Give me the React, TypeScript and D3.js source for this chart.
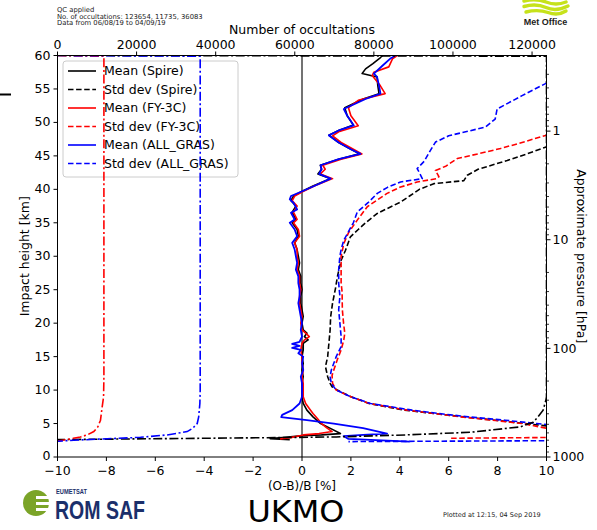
import React from "react";
import * as d3 from "d3";

const W = 597;
const H = 530;
const M = { left: 57.5, right: 546.5, top: 55.5, bottom: 457 };

const xTicks = [-10, -8, -6, -4, -2, 0, 2, 4, 6, 8, 10];
const yTicks = [0, 5, 10, 15, 20, 25, 30, 35, 40, 45, 50, 55, 60];
const countTicks = [0, 20000, 40000, 60000, 80000, 100000, 120000];
const pressureMajor = [1, 10, 100, 1000];
const countMax = 123654;
const scaleHeight = 7.05;

// [impact height km, (O-B)/B %]
const meanSpire: [number, number][] = [
  [60, 3.3], [59.7, 3.21], [58.8, 2.9], [58, 2.6], [57.3, 2.46], [56.8, 3.07], [55.5, 3.1], [54.3, 3.15],
  [53.5, 2.5], [52.2, 1.75], [51, 1.85], [49.6, 2.1], [48.8, 1.5], [48.1, 1.1], [47, 1.5], [46, 2.0],
  [45.3, 2.35], [44.5, 1.5], [43.6, 0.75], [43, 0.8], [42.3, 0.65], [41.6, 1.15], [40.5, 0.45], [39.6, -0.05],
  [39, -0.35], [38.3, -0.45], [37.5, -0.25], [36.6, -0.4], [35.5, -0.25], [35, -0.4], [34, -0.2], [33, -0.15],
  [32, -0.3], [31, -0.2], [30, -0.15], [29, -0.1], [28, -0.15], [27, -0.05], [26, -0.05], [25, 0.0],
  [24, -0.05], [23, -0.05], [22, 0.0], [21, 0.05], [20, 0.0], [19, 0.05], [18.5, 0.2], [18, 0.1],
  [17.5, 0.25], [17, 0.05], [16, 0.05], [15, 0.0], [14, 0.05], [13, 0.0], [12, 0.05], [11, 0.0],
  [10, 0.0], [9, 0.0], [8, 0.05], [7, 0.2], [6, 0.45], [5, 0.76], [4.2, 1.2], [3.5, 1.57],
  [3.3, 0.8], [3.2, 0.06], [2.9, -0.8], [2.75, -1.3], [2.6, -0.5],
];

const meanFY3C: [number, number][] = [
  [60, 3.89], [59.5, 3.7], [58.3, 3.55], [57.5, 2.94], [57, 2.87], [55.5, 3.2], [54.3, 3.4], [53.3, 2.3],
  [52.2, 1.9], [51, 2.0], [49.5, 2.3], [48.6, 1.5], [48, 1.25], [47, 1.6], [46, 2.1], [45.3, 2.45],
  [44.5, 1.6], [43.6, 0.85], [43, 0.95], [42.3, 0.75], [41.6, 1.25], [40.5, 0.5], [39.6, 0.0], [39, -0.3],
  [38.3, -0.4], [37.5, -0.2], [36.6, -0.35], [35.5, -0.2], [35, -0.35], [34, -0.15], [33, -0.1], [32, -0.3],
  [31, -0.2], [30, -0.2], [29, -0.15], [28, -0.2], [27, -0.1], [26, -0.1], [25, -0.05], [24, -0.1],
  [23, -0.1], [22, -0.05], [21, 0.0], [20, -0.05], [19, 0.0], [18.5, 0.15], [18, 0.3], [17.5, 0.1],
  [17, 0.0], [16, -0.05], [15, 0.0], [14, 0.0], [13, 0.05], [12, 0.0], [11, 0.05], [10, 0.05],
  [9, 0.05], [8, 0.15], [7, 0.35], [6.5, 0.45], [5.8, 0.62], [5, 0.8], [4.4, 1.0], [3.8, 1.23],
  [3.5, 0.7], [3.3, 0.06], [2.9, -0.47], [2.7, -0.9],
];

const meanGRAS: [number, number][] = [
  [60, 3.82], [59.5, 3.6], [58.5, 3.3], [57.3, 2.94], [56.8, 3.07], [55.5, 3.15], [54.3, 3.21], [53.5, 2.6],
  [52, 1.71], [51, 1.85], [49.55, 2.12], [48.8, 1.5], [48.06, 1.1], [47, 1.5], [46, 2.0], [45.3, 2.39],
  [44.5, 1.5], [43.6, 0.76], [43, 0.8], [42.3, 0.7], [41.6, 1.17], [40.5, 0.5], [39.6, -0.06], [39, -0.45],
  [38.5, -0.5], [38, -0.35], [37, -0.2], [36.5, -0.45], [35.5, -0.3], [35, -0.5], [34, -0.3], [33, -0.2],
  [32, -0.4], [31, -0.3], [30, -0.25], [29, -0.2], [28, -0.25], [27, -0.15], [26, -0.15], [25, -0.1],
  [24, -0.1], [23, -0.15], [22, -0.1], [21, -0.05], [20, 0.0], [19, -0.05], [18, 0.0], [17.2, -0.1],
  [16.9, -0.4], [16.6, -0.1], [16.3, -0.4], [16, -0.05], [15.5, -0.15], [15, 0.05], [14, 0.0], [13, 0.05],
  [12, -0.05], [11, 0.0], [10, 0.0], [9, 0.0], [8, -0.1], [7, -0.4], [6.3, -0.81], [5.97, -0.85],
  [5.5, 0.2], [5, 1.3], [4.3, 2.5], [3.5, 3.48], [3.3, 2.5], [3.13, 1.7], [2.7, 1.9], [2.3, 4.4],
];

const stdSpire: [number, number][] = [
  [60, 12], [50, 12], [47, 11], [46.3, 9.96], [45.3, 9.2], [44.3, 8.39], [43, 7.2], [42.1, 6.76],
  [41.3, 6.62], [40.85, 5.39], [40, 4.8], [39, 4.4], [38.1, 4.03], [36.4, 3.08], [35, 2.6], [34, 2.3],
  [32.9, 1.98], [30.9, 1.78], [29.4, 1.6], [27, 1.45], [25.2, 1.37], [23, 1.25], [20.9, 1.17], [19, 1.15],
  [17, 1.1], [15, 1.05], [13.5, 0.96], [12, 1.05], [11, 1.15], [10.5, 1.23], [10, 1.44], [9, 2.0],
  [8, 2.75], [7, 4.2], [6.5, 5.4], [6, 6.6], [5.5, 7.9], [4.8, 9.6], [4.3, 11], [3, 14], [2.6, 14],
];

const stdFY3C: [number, number][] = [
  [60, 12], [50, 11], [48.06, 9.96], [47, 9.0], [46.1, 8.12], [45.3, 7.2], [44.6, 6.35], [43.5, 5.9],
  [42.8, 5.46], [41.9, 5.6], [41.6, 5.53], [41.1, 4.71], [40.3, 4.0], [39.4, 3.48], [37.4, 2.67], [35.4, 2.26],
  [33.5, 1.9], [31.9, 1.71], [30, 1.6], [28, 1.6], [26, 1.6], [24.7, 1.64], [22, 1.65], [20, 1.7],
  [18.5, 1.75], [17.5, 1.71], [16, 1.6], [14.5, 1.44], [13, 1.3], [12.2, 1.23], [11, 1.25], [10, 1.4],
  [9, 2.0], [8, 2.75], [7, 4.3], [6.5, 5.4], [6, 6.5], [5.5, 7.8], [5, 9.0], [4.3, 10.0],
  [3.5, 12], [3.0, 13], [2.8, 6.1],
];

const stdGRAS: [number, number][] = [
  [60, 12], [57, 11], [55.8, 9.96], [54, 9.0], [52, 7.98], [50.5, 7.9], [49.3, 7.5], [48, 6.0],
  [47.06, 5.46], [45.5, 5.2], [44.2, 5.0], [43.1, 4.71], [42.5, 4.8], [41.6, 4.92], [41.1, 4.03], [40.3, 3.5],
  [39.4, 3.08], [38, 2.7], [36.6, 2.26], [35, 2.1], [34, 1.95], [32.4, 1.71], [31, 1.6], [30, 1.55],
  [28, 1.5], [26, 1.5], [24, 1.55], [22, 1.5], [20, 1.55], [18, 1.6], [16.5, 1.6], [15, 1.4],
  [14, 1.3], [13, 1.2], [12, 1.15], [11, 1.2], [10.5, 1.3], [10, 1.4], [9, 2.0], [8, 2.8],
  [7, 4.5], [6.5, 5.6], [6, 6.8], [5.5, 8.3], [5.0, 9.6], [4.5, 11], [4, 13], [2.5, 14], [2.3, 1.9],
];

// [impact height km, number of occultations]
const countSpire: [number, number][] = [
  [60, 0], [59.9, 123654], [9, 123654], [8.5, 123500], [7, 122800], [6, 121500], [5.2, 120300],
  [4.5, 117000], [3.7, 104500], [3.3, 88000], [3.0, 70500], [2.9, 55600], [2.6, 0],
];
const countFY3C: [number, number][] = [
  [60, 0], [59.9, 11735], [12, 11735], [9, 11650], [7.5, 11300], [5.5, 10870], [4.5, 10200],
  [3.8, 9180], [3.3, 7500], [3, 5815], [2.8, 4000], [2.6, 2450], [2.4, 0],
];
const countGRAS: [number, number][] = [
  [60, 0], [59.9, 36083], [10, 36083], [8, 36000], [6, 35700], [5, 35330], [4.3, 34200],
  [3.8, 32800], [3.3, 27740], [2.94, 20990], [2.73, 12570], [2.5, 4120], [2.35, 0],
];

const legendLabels = [
  "Mean (Spire)", "Std dev (Spire)", "Mean (FY-3C)", "Std dev (FY-3C)", "Mean (ALL_GRAS)", "Std dev (ALL_GRAS)",
];
const legendColors = ["#000000", "#000000", "#ff0000", "#ff0000", "#0000ff", "#0000ff"];

const FONT = "DejaVu Sans, sans-serif";
const DASH = "5.5,2.6";
const DASHDOT = "9,2.6,2,2.6";

export default function App() {
  const x = d3.scaleLinear().domain([-10, 10]).range([M.left, M.right]);
  const y = d3.scaleLinear().domain([0, 60]).range([M.bottom, M.top]);
  const xc = d3.scaleLinear().domain([0, countMax]).range([M.left, M.right]);
  const yp = d3.scaleLog().domain([1000, 1000 * Math.exp(-60 / scaleHeight)]).range([M.bottom, M.top]);

  const lineV = d3.line<[number, number]>().x((d) => x(d[1])).y((d) => y(d[0]));
  const lineC = d3.line<[number, number]>().x((d) => xc(d[1])).y((d) => y(d[0]));

  const pDomain = yp.domain();
  const pMin = Math.min(pDomain[0], pDomain[1]);
  const pMax = Math.max(pDomain[0], pDomain[1]);
  const minorP: number[] = [];
  [0.1, 1, 10, 100].forEach((b) => {
    for (let k = 2; k <= 9; k++) {
      const p = b * k;
      if (p >= pMin && p <= pMax) minorP.push(p);
    }
  });

  const fs = 12.5;

  return (
    <svg width={W} height={H} style={{ position: "absolute", left: 0, top: 0, background: "#fff" }} fontFamily={FONT}>
      <defs>
        <clipPath id="plotClip">
          <rect x={M.left} y={M.top} width={M.right - M.left} height={M.bottom - M.top} />
        </clipPath>
      </defs>
      <rect x={0} y={0} width={W} height={H} fill="#fff" />

      {/* header text */}
      <g fontSize={6.8} fill="#222">
        <text x={57} y={12}>QC applied</text>
        <text x={57} y={18.5}>No. of occultations: 123654, 11735, 36083</text>
        <text x={57} y={25}>Data from 06/08/19 to 04/09/19</text>
      </g>

      {/* Met Office logo */}
      <g fill="none" stroke="#c6e21b" strokeWidth={3.4} strokeLinecap="round">
        <path d="M524,1 Q536,-2 546,2 T566,2" />
        <path d="M524,6.5 Q536,3 546,7.5 T568,6" />
        <path d="M526,12 Q538,9 548,12.5 T566,11" />
      </g>
      <text x={545.5} y={25} fontSize={9} fontWeight="bold" textAnchor="middle" fill="#1d1d1b" fontFamily="Liberation Sans, Arial, sans-serif">Met Office</text>

      {/* small mark at left */}
      <line x1={0} x2={11} y1={94.5} y2={94.5} stroke="#000" strokeWidth={2} />

      {/* plot lines */}
      <g clipPath="url(#plotClip)" fill="none" strokeLinejoin="round">
        <line x1={x(0)} x2={x(0)} y1={M.top} y2={M.bottom} stroke="#444" strokeWidth={1.5} />
        <path d={lineV(stdSpire) || ""} stroke="#000" strokeWidth={1.6} strokeDasharray={DASH} />
        <path d={lineV(stdFY3C) || ""} stroke="#ff0000" strokeWidth={1.6} strokeDasharray={DASH} />
        <path d={lineV(stdGRAS) || ""} stroke="#0000ff" strokeWidth={1.6} strokeDasharray={DASH} />
        <path d={lineV(meanSpire) || ""} stroke="#000" strokeWidth={1.6} />
        <path d={lineV(meanFY3C) || ""} stroke="#ff0000" strokeWidth={1.6} />
        <path d={lineV(meanGRAS) || ""} stroke="#0000ff" strokeWidth={1.8} />
      </g>

      {/* legend */}
      <g>
        <rect x={63} y={61} width={175} height={116} rx={3} fill="#fff" fillOpacity={0.8} stroke="#cccccc" strokeWidth={1} />
        {legendLabels.map((lab, i) => {
          const ry = 71 + i * 18.5;
          return (
            <g key={lab}>
              <line x1={68} x2={96} y1={ry} y2={ry} stroke={legendColors[i]} strokeWidth={1.6}
                strokeDasharray={i % 2 === 1 ? DASH : undefined} />
              <text x={104} y={ry} dy="0.35em" fontSize={fs} fill="#000">{lab}</text>
            </g>
          );
        })}
      </g>

      {/* count lines (twin axis, drawn on top) */}
      <g clipPath="url(#plotClip)" fill="none">
        <path d={lineC(countSpire) || ""} stroke="#000" strokeWidth={1.6} strokeDasharray={DASHDOT} />
        <path d={lineC(countFY3C) || ""} stroke="#ff0000" strokeWidth={1.6} strokeDasharray={DASHDOT} />
        <path d={lineC(countGRAS) || ""} stroke="#0000ff" strokeWidth={1.6} strokeDasharray={DASHDOT} />
      </g>

      {/* frame */}
      <rect x={M.left} y={M.top} width={M.right - M.left} height={M.bottom - M.top} fill="none" stroke="#000" strokeWidth={1} />

      {/* bottom axis */}
      <g fontSize={fs} fill="#000">
        {xTicks.map((t) => (
          <g key={"xb" + t}>
            <line x1={x(t)} x2={x(t)} y1={M.bottom} y2={M.bottom + 4} stroke="#000" />
            <text x={x(t)} y={M.bottom + 17.5} textAnchor="middle">{t < 0 ? "\u2212" + Math.abs(t) : String(t)}</text>
          </g>
        ))}
        <text x={(M.left + M.right) / 2} y={489.5} fontSize={12} textAnchor="middle">(O-B)/B [%]</text>
      </g>

      {/* left axis */}
      <g fontSize={fs} fill="#000">
        {yTicks.map((t) => (
          <g key={"yl" + t}>
            <line x1={M.left - 4} x2={M.left} y1={y(t)} y2={y(t)} stroke="#000" />
            <text x={M.left - 7} y={y(t)} dy={t === 0 ? "0.22em" : "0.32em"} textAnchor="end">{t}</text>
          </g>
        ))}
        <text transform={`translate(29,${(M.top + M.bottom) / 2}) rotate(-90)`} textAnchor="middle">Impact height [km]</text>
      </g>

      {/* top axis */}
      <g fontSize={fs} fill="#000">
        {countTicks.map((t) => (
          <g key={"xt" + t}>
            <line x1={xc(t)} x2={xc(t)} y1={M.top - 4} y2={M.top} stroke="#000" />
            <text x={xc(t)} y={M.top - 7} textAnchor="middle">{t}</text>
          </g>
        ))}
        <text x={(M.left + M.right) / 2} y={34} textAnchor="middle">Number of occultations</text>
      </g>

      {/* right axis */}
      <g fontSize={fs} fill="#000">
        {minorP.map((p) => (
          <line key={"pm" + p} x1={M.right} x2={M.right + 2.5} y1={yp(p)} y2={yp(p)} stroke="#000" strokeWidth={0.8} />
        ))}
        {pressureMajor.map((p) => (
          <g key={"pM" + p}>
            <line x1={M.right} x2={M.right + 4} y1={yp(p)} y2={yp(p)} stroke="#000" />
            <text x={M.right + 6} y={yp(p)} dy="0.35em" textAnchor="start">{p}</text>
          </g>
        ))}
        <text transform={`translate(577,${(M.top + M.bottom) / 2}) rotate(90)`} textAnchor="middle">Approximate pressure [hPa]</text>
      </g>

      {/* footer */}
      <g>
        <circle cx={36} cy={503} r={13} fill="#7ba428" />
        <rect x={36} y={496} width={16} height={3} fill="#fff" />
        <rect x={36} y={502} width={16} height={3} fill="#fff" />
        <rect x={36} y={508} width={16} height={3} fill="#fff" />
        <text x={56} y={493.5} fontSize={7} fontWeight="bold" fill="#1b2f6b" fontFamily="Liberation Sans, Arial, sans-serif" textLength={31} lengthAdjust="spacingAndGlyphs">EUMETSAT</text>
        <text x={55} y={519} fontSize={25} fontWeight="bold" fill="#1b2f6b" fontFamily="Liberation Sans, Arial, sans-serif" textLength={90} lengthAdjust="spacingAndGlyphs">ROM SAF</text>
      </g>
      <text x={296} y={522} fontSize={31} textAnchor="middle" fill="#000" textLength={97} lengthAdjust="spacingAndGlyphs">UKMO</text>
      <text x={443} y={517} fontSize={6.5} fill="#222">Plotted at 12:15, 04 Sep 2019</text>
    </svg>
  );
}
